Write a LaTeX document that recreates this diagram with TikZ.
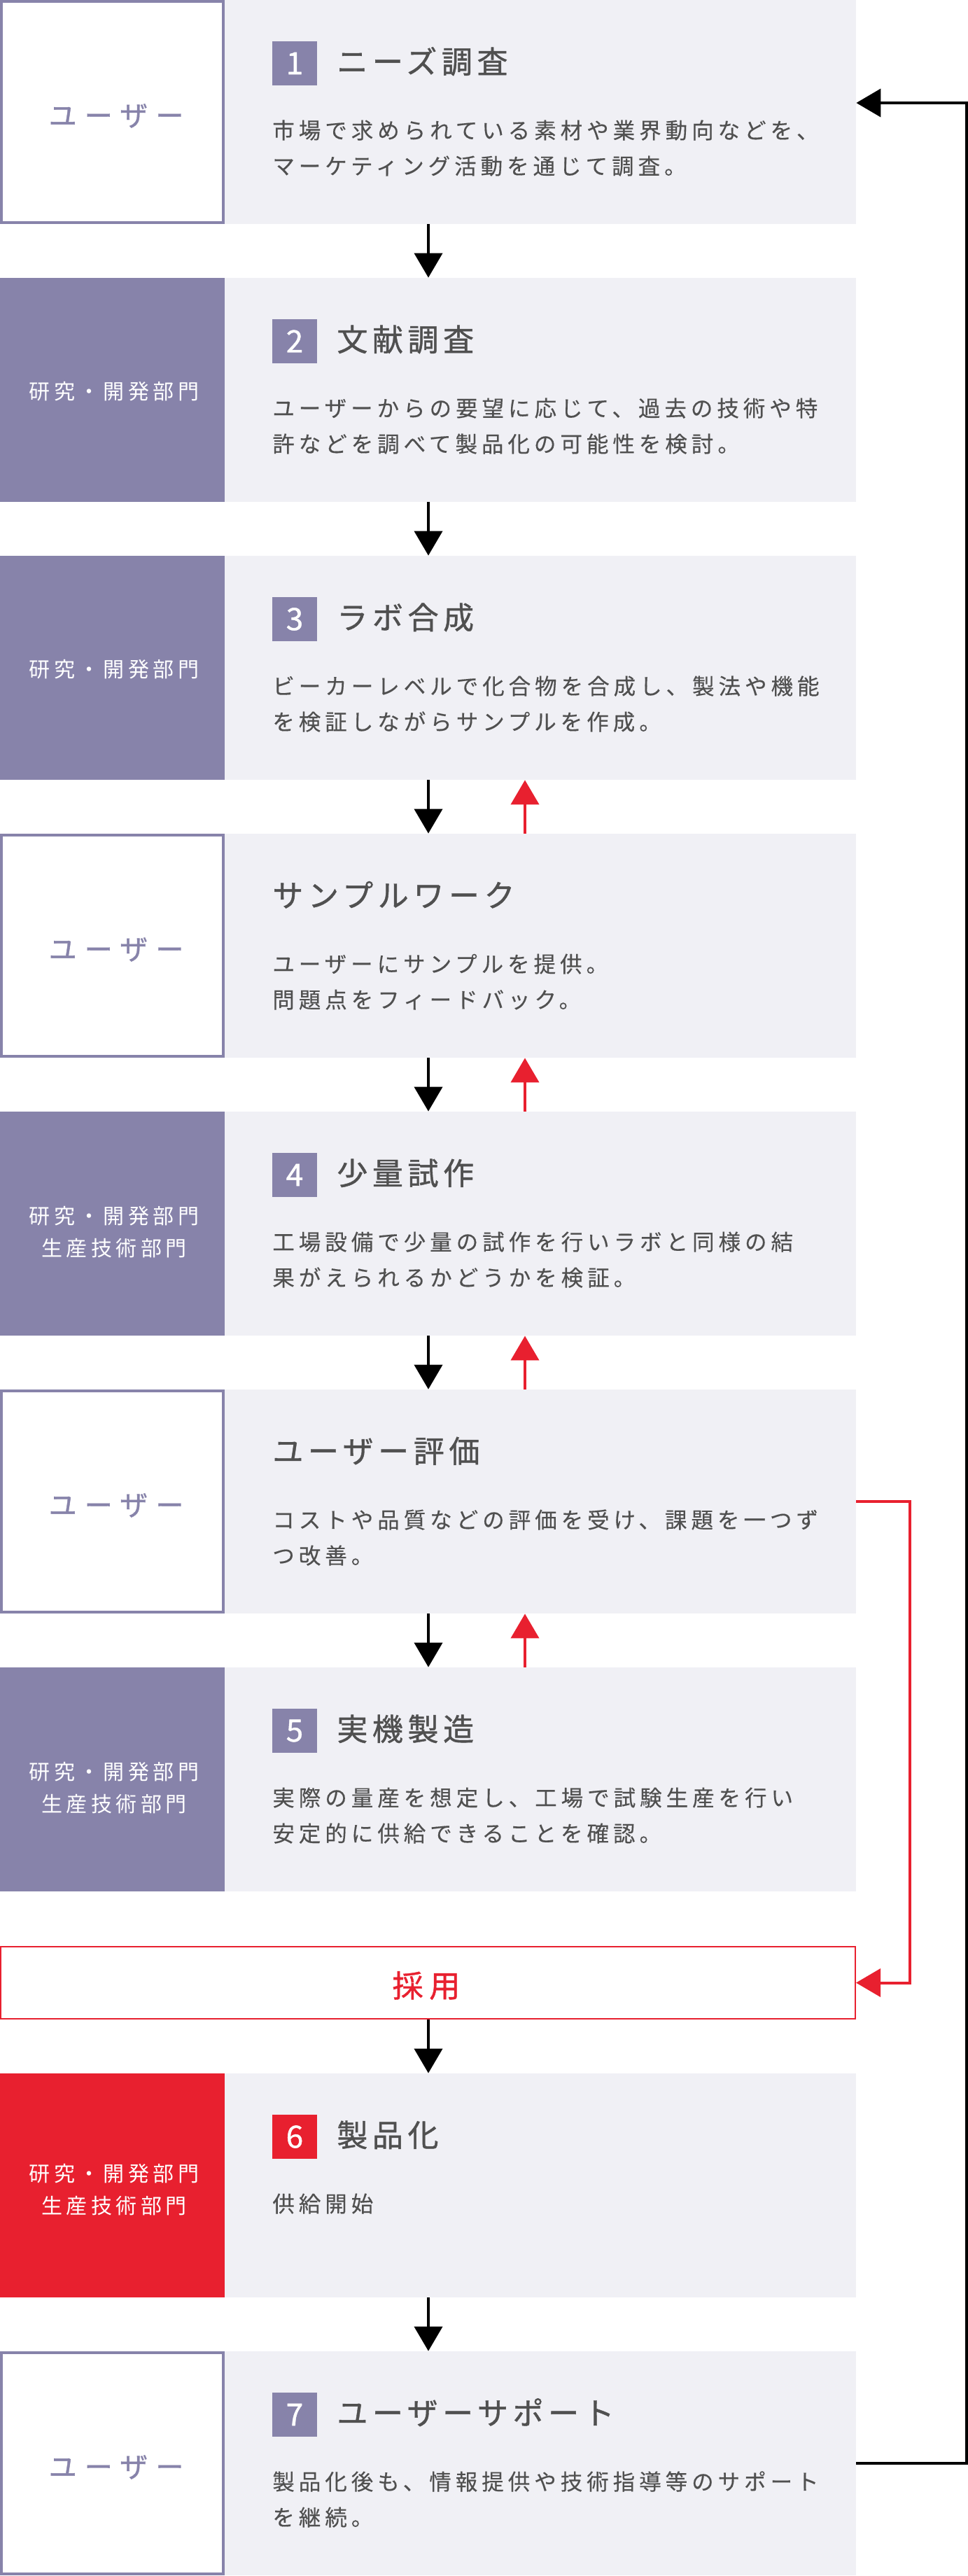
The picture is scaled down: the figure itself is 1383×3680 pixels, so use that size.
\documentclass[tikz,border=0pt]{standalone}
\usepackage{fontspec}
\setmainfont{Noto Sans CJK JP}
\newfontfamily\bodyjp{Noto Sans CJK JP}[LetterSpace=19,FakeBold=0.3]
\newfontfamily\titlejp{Noto Sans CJK JP}[LetterSpace=15,FakeBold=1]
\newfontfamily\numjp{Noto Sans CJK JP}[FakeBold=1]
\newfontfamily\userjp{Noto Sans CJK JP}[LetterSpace=28,FakeBold=1]
\newfontfamily\deptjp{Noto Sans CJK JP}[LetterSpace=18]
\newfontfamily\adoptjp{Noto Sans CJK JP}[LetterSpace=20,FakeBold=1]
\usetikzlibrary{arrows.meta}

\definecolor{purp}{RGB}{135,131,170}
\definecolor{panelgray}{RGB}{240,240,245}
\definecolor{jred}{RGB}{232,32,47}
\definecolor{txtgray}{RGB}{80,80,80}

\tikzset{every picture/.style={line width=0.75pt}}
\tikzset{
  usr/.style={draw=purp, line width=4pt, fill=white, minimum width=317pt, minimum height=316pt, inner sep=0pt},
  dept/.style={fill=purp, minimum width=321pt, minimum height=320pt, inner sep=0pt},
  deptred/.style={dept, fill=jred},
  panel/.style={fill=panelgray, minimum width=902pt, minimum height=320pt, inner sep=0pt},
  adoptbox/.style={draw=jred, line width=2.4pt, fill=white, minimum width=1220.6pt, minimum height=102.6pt, inner sep=0pt},
  badge/.style={fill=purp, text=white, minimum width=64pt, minimum height=63pt, inner sep=0pt, font=\numjp\fontsize{44}{44}\selectfont},
  ttl/.style={anchor=base west, inner sep=0pt, text=txtgray, font=\titlejp\fontsize{44}{44}\selectfont},
  body/.style={anchor=base west, inner sep=0pt, align=left, text=txtgray, font=\bodyjp\fontsize{31.5}{51}\selectfont},
  usrtxt/.style={anchor=base, inner sep=0pt, text=purp, font=\userjp\fontsize{40}{40}\selectfont},
  depttxt/.style={anchor=base, inner sep=0pt, align=center, text=white, font=\deptjp\fontsize{30}{46}\selectfont},
  adopttxt/.style={anchor=base, inner sep=0pt, text=jred, font=\adoptjp\fontsize{44}{44}\selectfont},
  blk/.style={draw=black, line width=4pt, -{Triangle[width=40pt,length=35pt]}},
  redarr/.style={draw=jred, line width=4pt, -{Triangle[width=40pt,length=35pt]}}
}

\begin{document}
\begin{tikzpicture}[x=1pt,y=1pt,yscale=-1,xscale=1]
\useasboundingbox (0,0) rectangle (1383,3680);

%Shape: Rectangle (row 1)
\node[usr] (u1) at (160.5,160) {};
\node[panel] (p1) at (772,160) {};
%Shape: Rectangle (row 2)
\node[dept] (d2) at (160.5,557) {};
\node[panel] (p2) at (772,557) {};
%Shape: Rectangle (row 3)
\node[dept] (d3) at (160.5,954) {};
\node[panel] (p3) at (772,954) {};
%Shape: Rectangle (row 4)
\node[usr] (u4) at (160.5,1351) {};
\node[panel] (p4) at (772,1351) {};
%Shape: Rectangle (row 5)
\node[dept] (d5) at (160.5,1748) {};
\node[panel] (p5) at (772,1748) {};
%Shape: Rectangle (row 6)
\node[usr] (u6) at (160.5,2145) {};
\node[panel] (p6) at (772,2145) {};
%Shape: Rectangle (row 7)
\node[dept] (d7) at (160.5,2542) {};
\node[panel] (p7) at (772,2542) {};
%Shape: Rectangle (adoption)
\node[adoptbox] (adopt) at (611.5,2832.5) {};
%Shape: Rectangle (row 8)
\node[deptred] (d8) at (160.5,3122) {};
\node[panel] (p8) at (772,3122) {};
%Shape: Rectangle (row 9)
\node[usr] (u9) at (160.5,3519) {};
\node[panel] (p9) at (772,3519) {};

%Shape: Badges
\node[badge] (n1) at (421,90.5) {1};
\node[badge] (n2) at (421,487.5) {2};
\node[badge] (n3) at (421,884.5) {3};
\node[badge] (n4) at (421,1678.5) {4};
\node[badge] (n5) at (421,2472.5) {5};
\node[badge, fill=jred] (n6) at (421,3052.5) {6};
\node[badge] (n7) at (421,3449.5) {7};

%Straight Lines (down)
\coordinate (ax) at (612,0);
\coordinate (rx) at (750,0);
\draw[blk] (p1.south -| ax) -- (p2.north -| ax);
\draw[blk] (p2.south -| ax) -- (p3.north -| ax);
\draw[blk] (p3.south -| ax) -- (p4.north -| ax);
\draw[blk] (p4.south -| ax) -- (p5.north -| ax);
\draw[blk] (p5.south -| ax) -- (p6.north -| ax);
\draw[blk] (p6.south -| ax) -- (p7.north -| ax);
\draw[blk] (adopt.south -| ax) -- (p8.north -| ax);
\draw[blk] (p8.south -| ax) -- (p9.north -| ax);
%Straight Lines (up)
\draw[redarr] (p4.north -| rx) -- (p3.south -| rx);
\draw[redarr] (p5.north -| rx) -- (p4.south -| rx);
\draw[redarr] (p6.north -| rx) -- (p5.south -| rx);
\draw[redarr] (p7.north -| rx) -- (p6.south -| rx);
%Straight Lines (feedback)
\coordinate (fbtop) at (1381,147);
\draw[blk] (p9.east) -| (fbtop) -- (fbtop -| p1.east);
\coordinate (rk) at (1300,0);
\draw[redarr] (p6.east) -| (rk |- adopt.east) -- (adopt.east);

% Text Node
\node[usrtxt] (l1) at (166,180) {ユーザー};
% Text Node
\node[ttl] (t1) at (481,104.5) {ニーズ調査};
% Text Node
\node[body] (b1) at (389,249) {市場で求められている素材や業界動向などを、\\マーケティング活動を通じて調査。};

% Text Node
\node[depttxt] (l2) at (163,570.4) {研究・開発部門};
% Text Node
\node[ttl] (t2) at (481,501.5) {文献調査};
% Text Node
\node[body] (b2) at (389,646) {ユーザーからの要望に応じて、過去の技術や特\\許などを調べて製品化の可能性を検討。};

% Text Node
\node[depttxt] (l3) at (163,967.4) {研究・開発部門};
% Text Node
\node[ttl] (t3) at (481,898.5) {ラボ合成};
% Text Node
\node[body] (b3) at (389,1043) {ビーカーレベルで化合物を合成し、製法や機能\\を検証しながらサンプルを作成。};

% Text Node
\node[usrtxt] (l4) at (166,1371) {ユーザー};
% Text Node
\node[ttl] (t4) at (389,1295.5) {サンプルワーク};
% Text Node
\node[body] (b4) at (389,1440) {ユーザーにサンプルを提供。\\問題点をフィードバック。};

% Text Node
\node[depttxt] (l5) at (163,1794) {研究・開発部門\\生産技術部門};
% Text Node
\node[ttl] (t5) at (481,1692.5) {少量試作};
% Text Node
\node[body] (b5) at (389,1837) {工場設備で少量の試作を行いラボと同様の結\\果がえられるかどうかを検証。};

% Text Node
\node[usrtxt] (l6) at (166,2165) {ユーザー};
% Text Node
\node[ttl] (t6) at (389,2089.5) {ユーザー評価};
% Text Node
\node[body] (b6) at (389,2234) {コストや品質などの評価を受け、課題を一つず\\つ改善。};

% Text Node
\node[depttxt] (l7) at (163,2588) {研究・開発部門\\生産技術部門};
% Text Node
\node[ttl] (t7) at (481,2486.5) {実機製造};
% Text Node
\node[body] (b7) at (389,2631) {実際の量産を想定し、工場で試験生産を行い\\安定的に供給できることを確認。};

% Text Node
\node[adopttxt] (a1) at (609,2853) {採用};

% Text Node
\node[depttxt] (l8) at (163,3162) {研究・開発部門\\生産技術部門};
% Text Node
\node[ttl] (t8) at (481,3066.5) {製品化};
% Text Node
\node[body] (b8) at (389,3160) {供給開始};

% Text Node
\node[usrtxt] (l9) at (166,3539) {ユーザー};
% Text Node
\node[ttl] (t9) at (481,3463.5) {ユーザーサポート};
% Text Node
\node[body] (b9) at (389,3608) {製品化後も、情報提供や技術指導等のサポート\\を継続。};

\end{tikzpicture}
\end{document}
